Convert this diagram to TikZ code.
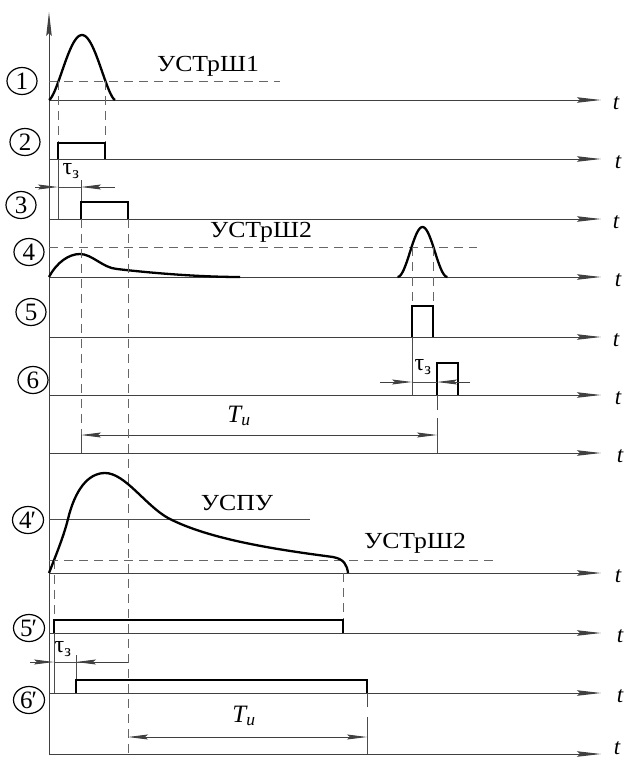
\documentclass[tikz,border=0pt]{standalone}
\usepackage{fontspec}
\setmainfont{Liberation Serif}
\usepackage{graphicx}
\usetikzlibrary{arrows.meta,shapes.geometric}
\begin{document}
\begin{tikzpicture}[x=1pt,y=-1pt,
 ax/.style={line width=1pt, draw=black!75, -{Stealth[length=24pt,width=5.5pt,inset=3pt]}},
 sig/.style={line width=2.3pt, line join=miter, line cap=butt},
 dsh/.style={line width=0.9pt, draw=black!60, dash pattern=on 9pt off 6pt},
 thn/.style={line width=0.9pt, draw=black!70},
 dimarr/.style={line width=0.9pt, draw=black!75, -{Stealth[length=20pt,width=5pt,inset=3pt]}},
 lbl/.style={font=\fontsize{23}{23}\selectfont, inner sep=0pt},
 tau/.style={font=\fontsize{24}{24}\selectfont, inner sep=0pt},
 cnum/.style={ellipse, draw, line width=1.2pt, minimum width=30pt, minimum height=27pt, inner sep=0pt, font=\fontsize{25}{25}\selectfont},
 tl/.style={font=\fontsize{23}{23}\selectfont\itshape, inner sep=0pt},
 tu/.style={font=\fontsize{25}{25}\selectfont\itshape, inner sep=0pt}]
\useasboundingbox (0,0) rectangle (624,758);
% vertical axis
\draw[ax] (49,754) -- (49,12);
% horizontal axes
\foreach \yy/\tx/\ty/\nm in {100/616/103/a1,159/618/162/a2,219/616/222/a3,277/618/280/a4,337/616/340/a5,395/618/398/a6,453/620/456/a7,573/618/576/a8,633/620/636/a9,693/620/696/a10,754/617/748/a11}{
  \coordinate (\nm s) at (49,\yy);
  \coordinate (\nm e) at (601,\yy);
  \draw[ax] (\nm s) -- (\nm e);
  \node[tl] (\nm t) at (\tx,\ty) {t};
}
% circled numbers
\node[cnum] (c1) at (22,81) {1};
\node[cnum] (c2) at (25,142) {2};
\node[cnum] (c3) at (21,205) {3};
\node[cnum] (c4) at (29,252) {4};
\node[cnum] (c5) at (31,312) {5};
\node[cnum] (c6) at (33,380) {6};
\node[cnum, minimum width=31pt] (c4p) at (28,520) {\hspace*{-1pt}4\kern-1pt′};
\node[cnum, minimum width=31pt] (c5p) at (29,628) {\hspace*{-1pt}5\kern-1pt′};
\node[cnum, minimum width=31pt] (c6p) at (29,700) {\hspace*{-1pt}6\kern-1pt′};
% ---- signal 1
\draw[dsh] (49,81) -- (280,81);
\node[lbl] (u1) at (208,66) {\scalebox{1.12}[1]{УСТрШ1}};
\draw[sig] plot[smooth, domain=49:115, samples=50] (\x,{100-65*pow(max(cos(90*(\x-82)/33),0.0001),1.5)});
\draw[dsh] (58,81) -- (58,143);
\draw[dsh] (105,81) -- (105,143);
% ---- signal 2
\draw[sig] (58,159) -- (58,143) -- (105,143) -- (105,159);
\draw[thn] (58,159) -- (58,219);
% ---- signal 3
\draw[thn] (81,180) -- (81,202);
\draw[sig] (81,219) -- (81,202) -- (128,202) -- (128,219);
\coordinate (tz1a) at (58,187);
\coordinate (tz1b) at (81,187);
\draw[thn] (tz1a) -- (tz1b);
\draw[dimarr] (35,187) -- (tz1a);
\draw[dimarr] (115,187) -- (tz1b);
\node[tau] (tau1) at (71,171) {τ\textsubscript{з}};
% ---- signal 4
\draw[dsh] (49,247) -- (477,247);
\node[lbl] (u2) at (261,232) {\scalebox{1.12}[1]{УСТрШ2}};
\draw[sig] (49,277) .. controls (57,262) and (69,254) .. (80,254)
  .. controls (92,254) and (103,268) .. (117,269)
  .. controls (160,274) and (205,277) .. (240,277);
\draw[sig] plot[smooth, domain=397.5:447.5, samples=50] (\x,{277-50*pow(max(cos(90*(\x-422.5)/25),0.0001),2)});
\draw[dsh] (412,247) -- (412,306);
\draw[dsh] (433,247) -- (433,306);
% ---- signal 5
\draw[sig] (412,337) -- (412,306) -- (433,306) -- (433,337);
\draw[thn] (412,337) -- (412,395);
% ---- signal 6
\draw[sig] (437,395) -- (437,363) -- (458,363) -- (458,395);
\coordinate (tz2a) at (412,382);
\coordinate (tz2b) at (437,382);
\draw[thn] (tz2a) -- (tz2b);
\draw[dimarr] (380,382) -- (tz2a);
\draw[dimarr] (470,382) -- (tz2b);
\node[tau] (tau2) at (423,367) {τ\textsubscript{з}};
\draw[thn] (437,395) -- (437,410);
\draw[thn] (437,418) -- (437,453);
% ---- Tu top
\draw[dsh] (81,219) -- (81,435);
\draw[thn] (81,435) -- (81,453);
\coordinate (tu1a) at (81,435);
\coordinate (tu1b) at (437,435);
\draw[dimarr, {Stealth[length=20pt,width=5pt,inset=3pt]}-{Stealth[length=20pt,width=5pt,inset=3pt]}] (tu1a) -- (tu1b);
\node[tu] (tu1) at (239,416) {T\textsubscript{и}};
% long dashed at 128
\draw[dsh] (128,219) -- (128,754);
% ---- signal 4'
\draw[thn] (49,519) -- (310,519);
\node[lbl] (u3) at (237,503) {\scalebox{1.12}[1]{УСПУ}};
\draw[dsh] (49,560) -- (498,560);
\node[lbl] (u4) at (415,543) {\scalebox{1.12}[1]{УСТрШ2}};
\draw[sig] (49,573) .. controls (58,550) and (64,535) .. (68,519)
  .. controls (75,490) and (88,473) .. (105,473)
  .. controls (125,473) and (145,505) .. (168,518)
  .. controls (210,540) and (280,550) .. (333,557)
  .. controls (344,559) and (347,565) .. (348,573);
\draw[dsh] (54,560) -- (54,620);
\draw[dsh] (343,573) -- (343,620);
% ---- signal 5'
\draw[sig] (54,633) -- (54,620) -- (343,620) -- (343,633);
\draw[thn] (54,633) -- (54,693);
% ---- signal 6'
\coordinate (tz3a) at (54,662);
\coordinate (tz3b) at (76,662);
\draw[thn] (tz3a) -- (tz3b);
\draw[thn] (tz3b) -- (128,662);
\draw[dimarr] (30,662) -- (tz3a);
\draw[dimarr] (128,662) -- (tz3b);
\node[tau] (tau3) at (63,649) {τ\textsubscript{з}};
\draw[thn] (76,655) -- (76,680);
\draw[sig] (76,693) -- (76,680) -- (367,680) -- (367,693);
% ---- Tu bottom
\draw[thn] (367,693) -- (367,707);
\draw[thn] (367,717) -- (367,754);
\coordinate (tu2a) at (128,737);
\coordinate (tu2b) at (367,737);
\draw[dimarr, {Stealth[length=20pt,width=5pt,inset=3pt]}-{Stealth[length=20pt,width=5pt,inset=3pt]}] (tu2a) -- (tu2b);
\node[tu] (tu2) at (244,716) {T\textsubscript{и}};
\end{tikzpicture}
\end{document}
